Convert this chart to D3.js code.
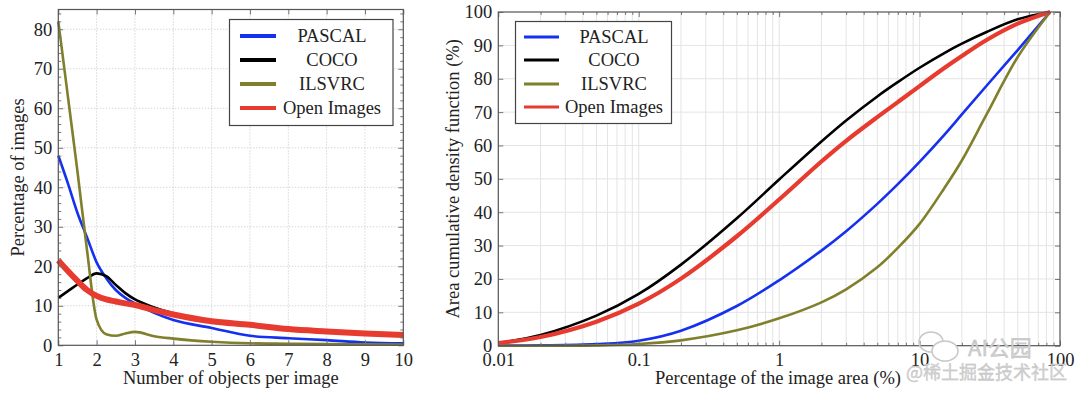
<!DOCTYPE html>
<html>
<head>
<meta charset="utf-8">
<script src="https://cdn.jsdelivr.net/npm/d3@7"></script>
<style>
  body { margin: 0; background: #fff; }
  svg { display: block; font-family: "Liberation Serif", "DejaVu Serif", serif; }
</style>
</head>
<body>
<svg id="chart" width="1080" height="396"></svg>
<script>
// ---- data: left chart (objects per image) ----
const objX = [1, 1.25, 1.5, 1.75, 2, 2.25, 2.5, 2.75, 3, 3.5, 4, 5, 6, 7, 8, 9, 10];
const objPascal = [48, 41, 33.5, 27.3, 21, 17, 14, 12, 10.6, 8.2, 6.4, 4.4, 2.4, 1.8, 1.3, 0.7, 0.5];
const objCoco = [12, 13.7, 15.4, 17, 18.2, 17.5, 15.3, 13.2, 11.6, 9.6, 8.1, 6.2, 5.2, 4.2, 3.5, 3.0, 2.5];
const objIlsvrc = [82, 63, 44, 24, 6.5, 2.8, 2.4, 3.0, 3.4, 2.3, 1.7, 0.9, 0.5, 0.4, 0.3, 0.25, 0.2];
const objOpen = [21.5, 18.8, 16.3, 14, 12.5, 11.6, 11.1, 10.6, 10.2, 8.9, 7.8, 6.1, 5.2, 4.1, 3.5, 3.0, 2.6];

// ---- data: right chart (area cdf) ----
const areaX = [0.01, 0.02, 0.05, 0.1, 0.2, 0.5, 1, 2, 3, 5, 7, 10, 15, 20, 30, 50, 85];
const areaPascal = [0, 0.1, 0.5, 1.5, 4.5, 11.9, 19.6, 28.5, 34.3, 42.5, 48.4, 55.1, 63.2, 69.3, 77.9, 88.6, 100];
const areaCoco = [0.8, 3.2, 9.0, 15.5, 24.3, 38.2, 49.8, 61.2, 67.5, 74.7, 79.0, 83.3, 87.7, 90.5, 94, 97.8, 100];
const areaIlsvrc = [0, 0, 0.1, 0.5, 1.6, 4.6, 8.2, 13, 16.9, 23.5, 29.3, 36.5, 47.2, 55.5, 69.3, 86.5, 100];
const areaOpen = [0.8, 2.6, 7.2, 12.6, 20.1, 32.8, 43.8, 55.2, 61.4, 68.5, 73.0, 77.8, 83.2, 86.8, 91.6, 96.5, 100];

const seriesNames = ["PASCAL", "COCO", "ILSVRC", "Open Images"];
const seriesColors = ["#1530ee", "#000000", "#7f7f2c", "#e63b2e"];

const leftYTicks = [0, 10, 20, 30, 40, 50, 60, 70, 80];
const leftXTicks = [1, 2, 3, 4, 5, 6, 7, 8, 9, 10];
const rightYTicks = [0, 10, 20, 30, 40, 50, 60, 70, 80, 90, 100];
const rightXTicks = [0.01, 0.1, 1, 10, 100];

const svg = d3.select("#chart");
const frameColor = "#555";
const fontSize = 18.5;

function mergeSeries(xs, ys) {
    return xs.map((x, i) => ({ x: x, y: ys[i] }));
}

function inwardAxes(g, x, y, box, xMajor, xMinor, yMajor, yMinor, xFmt) {
    const parts = [];
    parts.push(g.append("g").attr("transform", `translate(0,${box.bottom})`)
        .call(d3.axisBottom(x).tickValues(xMajor).tickSize(-5).tickPadding(7.5).tickFormat(xFmt)));
    parts.push(g.append("g").attr("transform", `translate(0,${box.top})`)
        .call(d3.axisTop(x).tickValues(xMajor).tickSize(-5).tickFormat("")));
    parts.push(g.append("g").attr("transform", `translate(${box.left},0)`)
        .call(d3.axisLeft(y).tickValues(yMajor).tickSize(-5).tickPadding(6)));
    parts.push(g.append("g").attr("transform", `translate(${box.right},0)`)
        .call(d3.axisRight(y).tickValues(yMajor).tickSize(-5).tickFormat("")));
    if (xMinor.length) {
        parts.push(g.append("g").attr("transform", `translate(0,${box.bottom})`)
            .call(d3.axisBottom(x).tickValues(xMinor).tickSize(-3).tickFormat("")));
        parts.push(g.append("g").attr("transform", `translate(0,${box.top})`)
            .call(d3.axisTop(x).tickValues(xMinor).tickSize(-3).tickFormat("")));
    }
    if (yMinor.length) {
        parts.push(g.append("g").attr("transform", `translate(${box.left},0)`)
            .call(d3.axisLeft(y).tickValues(yMinor).tickSize(-3).tickFormat("")));
        parts.push(g.append("g").attr("transform", `translate(${box.right},0)`)
            .call(d3.axisRight(y).tickValues(yMinor).tickSize(-3).tickFormat("")));
    }
    parts.forEach(a => {
        a.select(".domain").remove();
        a.selectAll("line").attr("stroke", "#777");
        a.selectAll("text").attr("font-family", "Liberation Serif").attr("font-size", fontSize).attr("fill", "#222");
    });
}

function drawLegend(g, box, sampleX0, sampleX1, textX, rowY, sampleW) {
    g.append("rect")
        .attr("x", box.x).attr("y", box.y).attr("width", box.w).attr("height", box.h)
        .attr("fill", "#fff").attr("stroke", "#444").attr("stroke-width", 1.2);
    const rows = g.selectAll("g.row").data(seriesNames).enter().append("g");
    rows.append("line")
        .attr("x1", sampleX0).attr("x2", sampleX1)
        .attr("y1", (d, i) => rowY[i]).attr("y2", (d, i) => rowY[i])
        .attr("stroke", (d, i) => seriesColors[i]).attr("stroke-width", sampleW);
    rows.append("text")
        .attr("x", textX).attr("y", (d, i) => rowY[i]).attr("dy", "0.35em")
        .attr("text-anchor", "middle").attr("font-size", fontSize).attr("fill", "#222")
        .text(d => d);
}

// ================= left chart =================
const L = { left: 58.3, right: 403.3, top: 9.5, bottom: 345.3 };
const xL = d3.scaleLinear().domain([1, 10]).range([L.left, L.right]);
const yL = d3.scaleLinear().domain([0, 85]).range([L.bottom, L.top]);
const gL = svg.append("g").attr("class", "left");

// dotted grid
gL.append("g").selectAll("line")
    .data(leftXTicks.slice(1, -1))
    .enter().append("line")
    .attr("x1", d => xL(d)).attr("x2", d => xL(d))
    .attr("y1", L.top).attr("y2", L.bottom)
    .attr("stroke", "#c4c4c4").attr("stroke-dasharray", "1,2");
gL.append("g").selectAll("line")
    .data(leftYTicks.slice(1))
    .enter().append("line")
    .attr("x1", L.left).attr("x2", L.right)
    .attr("y1", d => yL(d)).attr("y2", d => yL(d))
    .attr("stroke", "#c4c4c4").attr("stroke-dasharray", "1,2");

const leftMinorY = d3.range(0, 85, 2).filter(v => v % 10 !== 0);

const lineL = d3.line().x(d => xL(d.x)).y(d => yL(d.y)).curve(d3.curveMonotoneX);
const leftSeries = [objPascal, objCoco, objIlsvrc, objOpen];
const leftWidths = [2.6, 2.6, 2.6, 6];
gL.append("g").selectAll("path")
    .data(leftSeries)
    .enter().append("path")
    .attr("d", d => lineL(mergeSeries(objX, d)))
    .attr("fill", "none")
    .attr("stroke", (d, i) => seriesColors[i])
    .attr("stroke-width", (d, i) => leftWidths[i])
    .attr("stroke-linejoin", "round");

inwardAxes(gL, xL, yL, L, leftXTicks, [], leftYTicks, leftMinorY, d => d);

gL.append("rect")
    .attr("x", L.left).attr("y", L.top)
    .attr("width", L.right - L.left).attr("height", L.bottom - L.top)
    .attr("fill", "none").attr("stroke", frameColor).attr("stroke-width", 1.2);

gL.append("text")
    .attr("x", (L.left + L.right) / 2).attr("y", 384)
    .attr("text-anchor", "middle").attr("font-size", fontSize).attr("fill", "#222")
    .text("Number of objects per image");
gL.append("text")
    .attr("transform", `translate(24,${(L.top + L.bottom) / 2}) rotate(-90)`)
    .attr("text-anchor", "middle").attr("font-size", fontSize).attr("fill", "#222")
    .text("Percentage of images");

drawLegend(gL, { x: 229.5, y: 19.5, w: 163.5, h: 106 }, 240, 276, 332, [36, 60, 84, 108], 4);

// ================= right chart =================
const R = { left: 498.3, right: 1060, top: 12, bottom: 345.7 };
const xR = d3.scaleLog().domain([0.01, 100]).range([R.left, R.right]);
const yR = d3.scaleLinear().domain([0, 100]).range([R.bottom, R.top]);
const gR = svg.append("g").attr("class", "right");

const rightMinorX = [];
[0.01, 0.1, 1, 10].forEach(dec => d3.range(2, 10).forEach(k => rightMinorX.push(+(dec * k).toPrecision(3))));

gR.append("g").selectAll("line")
    .data(rightMinorX.concat(rightXTicks.slice(1, -1)))
    .enter().append("line")
    .attr("x1", d => xR(d)).attr("x2", d => xR(d))
    .attr("y1", R.top).attr("y2", R.bottom)
    .attr("stroke", "#e4e4e4").attr("stroke-width", 1);
gR.append("g").selectAll("line")
    .data(rightYTicks.slice(1, -1))
    .enter().append("line")
    .attr("x1", R.left).attr("x2", R.right)
    .attr("y1", d => yR(d)).attr("y2", d => yR(d))
    .attr("stroke", "#e4e4e4").attr("stroke-width", 1);

const lineR = d3.line().x(d => xR(d.x)).y(d => yR(d.y)).curve(d3.curveCatmullRom.alpha(0.5));
const rightSeries = [areaPascal, areaCoco, areaIlsvrc, areaOpen];
const rightWidths = [2.6, 2.6, 2.6, 4.2];
gR.append("g").selectAll("path")
    .data(rightSeries)
    .enter().append("path")
    .attr("d", d => lineR(mergeSeries(areaX, d)))
    .attr("fill", "none")
    .attr("stroke", (d, i) => seriesColors[i])
    .attr("stroke-width", (d, i) => rightWidths[i])
    .attr("stroke-linejoin", "round");

inwardAxes(gR, xR, yR, R, rightXTicks, rightMinorX, rightYTicks, [], d => String(d));

gR.append("rect")
    .attr("x", R.left).attr("y", R.top)
    .attr("width", R.right - R.left).attr("height", R.bottom - R.top)
    .attr("fill", "none").attr("stroke", frameColor).attr("stroke-width", 1.2);

gR.append("text")
    .attr("x", 778).attr("y", 384)
    .attr("text-anchor", "middle").attr("font-size", fontSize).attr("fill", "#222")
    .text("Percentage of the image area (%)");
gR.append("text")
    .attr("transform", `translate(459,${(R.top + R.bottom) / 2}) rotate(-90)`)
    .attr("text-anchor", "middle").attr("font-size", fontSize).attr("fill", "#222")
    .text("Area cumulative density function (%)");

drawLegend(gR, { x: 515.5, y: 21.5, w: 156, h: 102 }, 524, 559, 614, [37, 60, 84, 107], 3.2);

// ---- watermark ----
const wm = svg.append("g").attr("fill", "none").attr("stroke", "#c9c9c9").attr("stroke-width", 1.6);
wm.append("ellipse").attr("cx", 931).attr("cy", 342).attr("rx", 12).attr("ry", 10);
wm.append("ellipse").attr("cx", 945).attr("cy", 351).attr("rx", 13).attr("ry", 10).attr("fill", "#fff");
svg.append("text")
    .attr("x", 968).attr("y", 356)
    .attr("font-family", "Noto Sans CJK SC").attr("font-size", 22)
    .attr("fill", "#d0d0d0").attr("stroke", "#bbb").attr("stroke-width", 0.4)
    .text("AI公园");
svg.append("text")
    .attr("x", 906).attr("y", 379)
    .attr("font-family", "Noto Sans CJK SC").attr("font-size", 18)
    .attr("fill", "#d2d2d2").attr("stroke", "#bbb").attr("stroke-width", 0.3)
    .text("@稀土掘金技术社区");
</script>
</body>
</html>
